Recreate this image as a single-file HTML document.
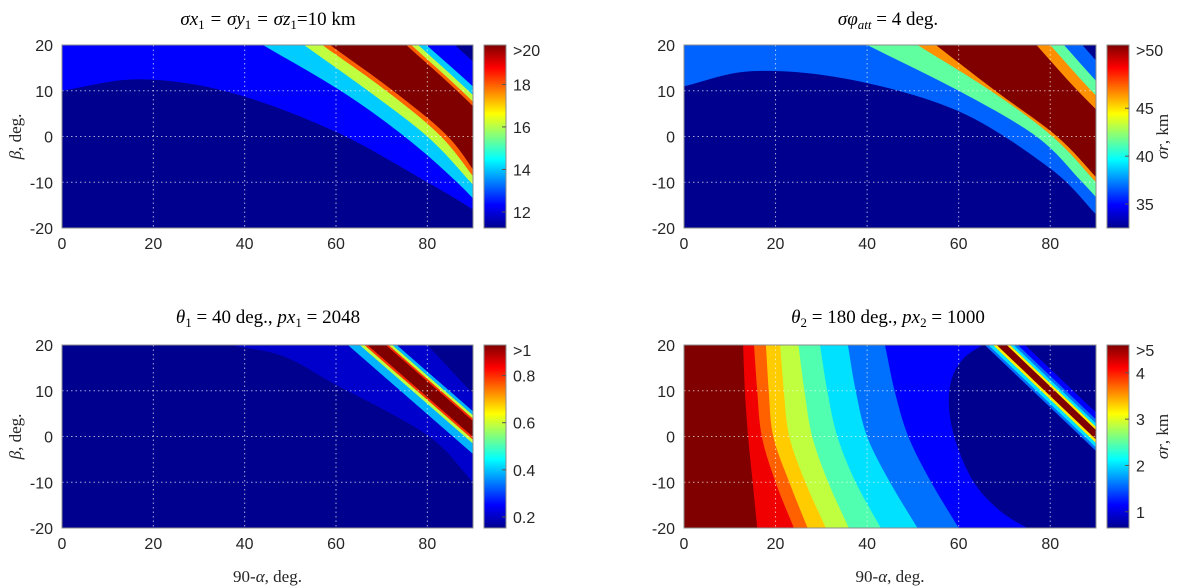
<!DOCTYPE html>
<html><head><meta charset="utf-8">
<style>
html,body{margin:0;padding:0;background:#fff;}
svg{display:block;font-family:"Liberation Sans",sans-serif;}
.tick{font-size:16px;fill:#262626;}
.ttl{font-family:"Liberation Serif",serif;font-size:19px;fill:#000;}
.lab{font-family:"Liberation Serif",serif;font-size:17px;fill:#262626;}
</style></head>
<body>
<svg id="fig" width="1200" height="588" viewBox="0 0 1200 588" xmlns="http://www.w3.org/2000/svg">
<defs>
<linearGradient id="jet" x1="0" y1="1" x2="0" y2="0">
<stop offset="0" stop-color="#00008f"/><stop offset="0.125" stop-color="#0000ff"/>
<stop offset="0.375" stop-color="#00ffff"/><stop offset="0.625" stop-color="#ffff00"/>
<stop offset="0.875" stop-color="#ff0000"/><stop offset="1" stop-color="#800000"/>
</linearGradient>
</defs>
<text class="ttl" x="268" y="25" text-anchor="middle" font-style="italic">σx<tspan font-size="13" dy="4" font-style="normal">1</tspan><tspan dy="-4"> = σy</tspan><tspan font-size="13" dy="4" font-style="normal">1</tspan><tspan dy="-4"> = σz</tspan><tspan font-size="13" dy="4" font-style="normal">1</tspan><tspan dy="-4" font-style="normal">=10 km</tspan></text>
<text class="ttl" x="888" y="25" text-anchor="middle" font-style="italic">σφ<tspan font-size="13" dy="4">att</tspan><tspan dy="-4" font-style="normal"> = 4 deg.</tspan></text>
<text class="ttl" x="268" y="323" text-anchor="middle" font-style="italic">θ<tspan font-size="13" dy="4" font-style="normal">1</tspan><tspan dy="-4" font-style="normal"> = 40 deg., </tspan>px<tspan font-size="13" dy="4" font-style="normal">1</tspan><tspan dy="-4" font-style="normal"> = 2048</tspan></text>
<text class="ttl" x="888" y="323" text-anchor="middle" font-style="italic">θ<tspan font-size="13" dy="4" font-style="normal">2</tspan><tspan dy="-4" font-style="normal"> = 180 deg., </tspan>px<tspan font-size="13" dy="4" font-style="normal">2</tspan><tspan dy="-4" font-style="normal"> = 1000</tspan></text>
</svg>
<script>
// ---- data ----
const betaLevels = [20, 10, 0, -10, -20];
const xTicks = [0, 20, 40, 60, 80];
const yTicks = [-20, -10, 0, 10, 20];
// top-left
const tlBg = '#00008f';
const tlDomeColor = '#0000ff';
const tlDomeX = [-5, 0, 17, 37, 60, 80, 90, 100];
const tlDomeB = [9.5, 10, 12.5, 9.6, 1, -10, -16, -23];
const tlColors = ['#00ccff','#c0ff40','#ff6000','#800000','#ff6000','#c0ff40','#00ccff','#0000ff','#00008f'];
const tlBounds = [[44,61,75,86.5,96],[53,67,80,89.5,98],[57,71,83,91,99],[58.7,72.5,84.5,92,100],
  [75.4,86.5,96.5,105,113],[76.5,87.5,97.5,106,114],[78,89,99,107.5,115.5],[79.8,91,101,109.5,117.5],[86,97,107,115.5,123.5]];
const tlCbMin = 11.25, tlCbMax = 19.85;
const tlCbTicks = [12, 14, 16, 18];
const tlCbTop = '>20';
// top-right
const trBg = '#00008f';
const trDomeColor = '#0062ff';
const trDomeX = [-5, 0, 15, 36, 60, 80, 90, 100];
const trDomeB = [10.5, 11, 14.3, 12.5, 5.5, -7, -17, -28];
const trColors = ['#60ffa0','#ff9000','#800000','#ff9000','#60ffa0','#0062ff','#00008f'];
const trBounds = [[40,60,77,87,96],[51,67,80.5,90,99],[55,68,81.5,91,100],
  [77,86,96,106,116],[80,89,99,109,119],[83,92,102,112,122],[87,96,106,116,126]];
const trCbMin = 32.5, trCbMax = 51.6;
const trCbTicks = [35, 40, 45];
const trCbTop = '>50';
// bottom-left
const blBg = '#00008f';
const blDomeColor = '#0000cc';
const blDomeX = [25, 35, 48, 60, 80, 90, 100];
const blDomeB = [25, 20.5, 17.7, 11.3, 0.3, -10, -21];
const blColors = ['#00b4ff','#c0ff40','#ff3000','#800000','#ff3000','#c0ff40','#00b4ff','#0000cc','#00008f'];
const blBounds = [[62.6,74.1,85.6,97.1,108.6],[65.2,76.7,88.2,99.7,111.2],[66.2,77.7,89.2,100.7,112.2],
  [66.9,78.4,89.9,101.4,112.9],[70.9,82.4,93.9,105.4,116.9],[71.5,83,94.5,106,117.5],
  [72.3,83.8,95.3,106.8,118.3],[73.3,84.8,96.3,107.8,119.3],[80,89.4,98.8,108.2,117.6]];
const blCbMin = 0.153, blCbMax = 0.93;
const blCbTicks = [0.2, 0.4, 0.6, 0.8];
const blCbTop = '>1';
// bottom-right
const brBg = '#800000';
const brColors = ['#f00000','#ff6000','#ffcc00','#c0ff40','#50ffb0','#00e0ff','#0070ff','#0000ff'];
const brBounds = [[12.9,13.3,14,15,16],[15.3,16,17,20,24],[17.9,18.5,19.5,23,27],[21,21.8,23,26.5,31],
  [25,26.3,28,31.5,36],[29.7,31.3,33.5,37.5,43],[35.8,37.5,40,45,51],[43.9,46,49,54,60]];
const brEllipseX = [66, 61, 58.3, 58, 60, 64, 70, 77];
const brEllipseB = [20.5, 17, 12, 5, -3, -11, -17, -21];
const brStripeColors = ['#0070ff','#00e0ff','#ffee00','#800000','#ffee00','#00e0ff','#0070ff','#0000ff','#00008f'];
const brStripeBounds = [[65.7,76.2,86.7,97.2,107.7],[66.5,77,87.5,98,108.5],[67.5,78,88.5,99,109.5],
  [68.3,78.8,89.3,99.8,110.3],[70.5,81,91.5,102,112.5],[71.2,81.7,92.2,102.7,113.2],
  [72,82.5,93,103.5,114],[72.9,83.4,93.9,104.4,114.9],[74.5,85,95.5,106,116.5]];
const brCbMin = 0.65, brCbMax = 4.6;
const brCbTicks = [1, 2, 3, 4];
const brCbTop = '>5';

// ---- drawing ----
const NS = 'http://www.w3.org/2000/svg';
const svg = document.getElementById('fig');
function mk(tag, attrs, parent) {
  const e = document.createElementNS(NS, tag);
  for (const k in attrs) e.setAttribute(k, attrs[k]);
  (parent || svg).appendChild(e);
  return e;
}
function f(v) { return v.toFixed(1); }
function smooth(pts) {
  let d = '';
  for (let i = 0; i < pts.length - 1; i++) {
    const p0 = pts[Math.max(0, i - 1)], p1 = pts[i], p2 = pts[i + 1], p3 = pts[Math.min(pts.length - 1, i + 2)];
    const c1 = [p1[0] + (p2[0] - p0[0]) / 6, p1[1] + (p2[1] - p0[1]) / 6];
    const c2 = [p2[0] - (p3[0] - p1[0]) / 6, p2[1] - (p3[1] - p1[1]) / 6];
    d += ' C' + f(c1[0]) + ',' + f(c1[1]) + ' ' + f(c2[0]) + ',' + f(c2[1]) + ' ' + f(p2[0]) + ',' + f(p2[1]);
  }
  return d;
}
const panels = [
  {id:'top-left', x0:62, x1:473, y0:45, y1:228, cbx:484, bg:tlBg, domeColor:tlDomeColor, domeX:tlDomeX, domeB:tlDomeB,
   colors:tlColors, bounds:tlBounds, cbMin:tlCbMin, cbMax:tlCbMax, cbTicks:tlCbTicks, cbTop:tlCbTop, ylab:true, xlab:false, cblab:false},
  {id:'top-right', x0:684, x1:1096, y0:45, y1:228, cbx:1107, bg:trBg, domeColor:trDomeColor, domeX:trDomeX, domeB:trDomeB,
   colors:trColors, bounds:trBounds, cbMin:trCbMin, cbMax:trCbMax, cbTicks:trCbTicks, cbTop:trCbTop, ylab:false, xlab:false, cblab:true},
  {id:'bottom-left', x0:62, x1:473, y0:345, y1:528, cbx:484, bg:blBg, domeColor:blDomeColor, domeX:blDomeX, domeB:blDomeB,
   colors:blColors, bounds:blBounds, cbMin:blCbMin, cbMax:blCbMax, cbTicks:blCbTicks, cbTop:blCbTop, ylab:true, xlab:true, cblab:false},
  {id:'bottom-right', x0:684, x1:1096, y0:345, y1:528, cbx:1107, bg:brBg, domeColor:null,
   colors:brColors, bounds:brBounds, cbMin:brCbMin, cbMax:brCbMax, cbTicks:brCbTicks, cbTop:brCbTop, ylab:false, xlab:true, cblab:true,
   extra:true}
];

function boundaryPath(xs, X, Y) {
  const n = xs.length;
  const topExt = xs[0] - (xs[1] - xs[0]);
  const botExt = xs[n-1] + (xs[n-1] - xs[n-2]);
  const pts = [[X(topExt), Y(30)]];
  for (let i = 0; i < n; i++) pts.push([X(xs[i]), Y(betaLevels[i])]);
  pts.push([X(botExt), Y(-30)]);
  return 'M' + f(pts[0][0]) + ',' + f(pts[0][1]) + smooth(pts) +
    ' L' + f(X(400)) + ',' + f(Y(-30)) + ' L' + f(X(400)) + ',' + f(Y(30)) + ' Z';
}

panels.forEach((p, pi) => {
  const X = v => p.x0 + (v / 90) * (p.x1 - p.x0);
  const Y = b => p.y0 + ((20 - b) / 40) * (p.y1 - p.y0);
  const cid = 'clip' + pi;
  const cp = mk('clipPath', {id: cid});
  mk('rect', {x:p.x0, y:p.y0, width:p.x1-p.x0, height:p.y1-p.y0}, cp);
  const g = mk('g', {'clip-path':'url(#' + cid + ')'});
  
  
  const bg = mk('rect', {x:p.x0, y:p.y0, width:p.x1-p.x0, height:p.y1-p.y0, fill:p.bg}, g);
  
  
  if (p.domeColor) {
    const pts = p.domeX.map((x, i) => [X(x), Y(p.domeB[i])]);
    const last = pts[pts.length - 1];
    const d = 'M' + f(pts[0][0]) + ',' + f(pts[0][1]) + smooth(pts) +
      ' L' + f(last[0]) + ',' + f(Y(30)) + ' L' + f(pts[0][0]) + ',' + f(Y(30)) + ' Z';
    const dm = mk('path', {d: d, fill: p.domeColor}, g);
    
    
  }
  p.bounds.forEach((xs, i) => {
    const e = mk('path', {d: boundaryPath(xs, X, Y), fill: p.colors[i]}, g);
    
    
  });
  if (p.extra) {
    const pts = brEllipseX.map((x, i) => [X(x), Y(brEllipseB[i])]);
    const d = 'M' + f(pts[0][0]) + ',' + f(pts[0][1]) + smooth(pts) +
      ' L' + f(X(115)) + ',' + f(Y(-21)) + ' L' + f(X(68)) + ',' + f(Y(20.5)) + ' Z';
    const el = mk('path', {d: d, fill:'#00008f'}, g);
    
    
    brStripeBounds.forEach((xs, i) => {
      const e = mk('path', {d: boundaryPath(xs, X, Y), fill: brStripeColors[i]}, g);
      
      
    });
  }
  xTicks.forEach(t => {
    if (t === 0) return;
    const l = mk('line', {x1:X(t), x2:X(t), y1:p.y0, y2:p.y1, stroke:'#ffffff', 'stroke-opacity':0.65, 'stroke-width':1, 'stroke-dasharray':'1.5 3'});
    
    
  });
  yTicks.forEach(t => {
    if (t === 20 || t === -20) return;
    const l = mk('line', {x1:p.x0, x2:p.x1, y1:Y(t), y2:Y(t), stroke:'#ffffff', 'stroke-opacity':0.65, 'stroke-width':1, 'stroke-dasharray':'1.5 3'});
    
    
  });
  const fr = mk('rect', {x:p.x0, y:p.y0, width:p.x1-p.x0, height:p.y1-p.y0, fill:'none', stroke:'#8c8c8c', 'stroke-width':1});
  
  
  xTicks.forEach(t => {
    const tx = mk('text', {x:X(t), y:p.y1 + 21, 'text-anchor':'middle', class:'tick'});
    tx.textContent = String(t);
    
    
  });
  yTicks.forEach(t => {
    const tx = mk('text', {x:p.x0 - 9, y:Y(t) + 6, 'text-anchor':'end', class:'tick'});
    tx.textContent = String(t);
    
    
  });
  if (p.ylab) {
    const yl = mk('text', {x:0, y:0, 'text-anchor':'middle', class:'lab', transform:'translate(' + (p.x0 - 41) + ',' + ((p.y0 + p.y1) / 2) + ') rotate(-90)'});
    yl.innerHTML = '<tspan font-style="italic">β</tspan>, deg.';
    
    
  }
  if (p.xlab) {
    const xl = mk('text', {x:(p.x0 + p.x1) / 2, y:582, 'text-anchor':'middle', class:'lab'});
    xl.innerHTML = '90-<tspan font-style="italic">α</tspan>, deg.';
    
    
  }
  const cbw = 22;
  const cb = mk('rect', {x:p.cbx, y:p.y0, width:cbw, height:p.y1-p.y0, fill:'url(#jet)', stroke:'#8c8c8c', 'stroke-width':1});
  
  
  const CY = v => p.y1 - (v - p.cbMin) / (p.cbMax - p.cbMin) * (p.y1 - p.y0);
  p.cbTicks.forEach(t => {
    const tk = mk('line', {x1:p.cbx + cbw - 4, x2:p.cbx + cbw, y1:CY(t), y2:CY(t), stroke:'#555'});
    
    
    const tx = mk('text', {x:p.cbx + cbw + 7, y:CY(t) + 6, class:'tick'});
    tx.textContent = String(t);
    
    
  });
  const top = mk('text', {x:p.cbx + cbw + 7, y:p.y0 + 11, class:'tick'});
  top.textContent = p.cbTop;
  
  
  if (p.cblab) {
    const cl = mk('text', {x:0, y:0, 'text-anchor':'middle', class:'lab', transform:'translate(' + (p.cbx + 61) + ',' + ((p.y0 + p.y1) / 2) + ') rotate(-90)'});
    cl.innerHTML = '<tspan font-style="italic">σr</tspan>, km';
    
    
  }
});
</script>
</body></html>
